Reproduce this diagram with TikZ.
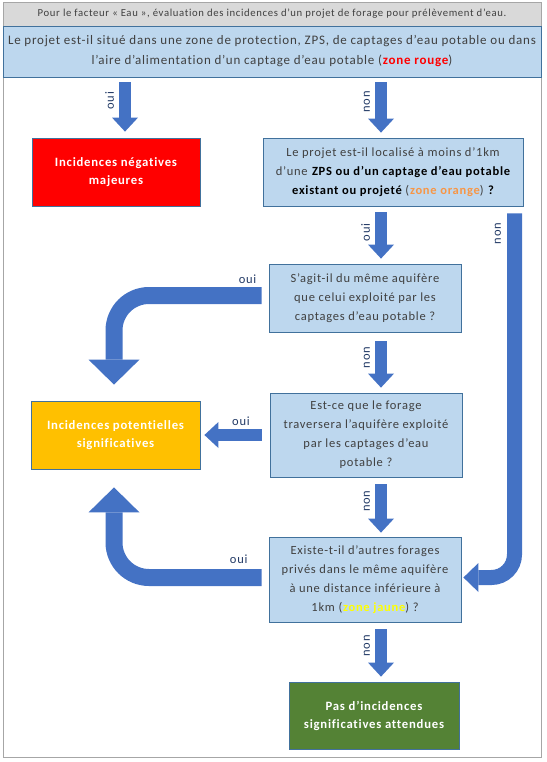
\documentclass[tikz,border=0pt]{standalone}
\usepackage{fontspec}
\setmainfont{Carlito}[LetterSpace=6, Ligatures=NoCommon]
\usetikzlibrary{arrows.meta,calc,positioning}

\definecolor{bleuboite}{HTML}{BDD7EE}
\definecolor{bordbleu}{HTML}{41719C}
\definecolor{bleufleche}{HTML}{4472C4}
\definecolor{bleuetiq}{HTML}{203864}
\definecolor{gristexte}{HTML}{404040}
\definecolor{grisfond}{HTML}{D9D9D9}
\definecolor{griscadre}{HTML}{A6A6A6}
\definecolor{rouge}{HTML}{FF0000}
\definecolor{orangeboite}{HTML}{FFC000}
\definecolor{orangetexte}{HTML}{F79646}
\definecolor{jaune}{HTML}{FFFF00}
\definecolor{vert}{HTML}{548235}

\newcommand{\fort}[1]{\textbf{\textcolor{black}{#1}}}

\tikzset{
  question/.style={draw=bordbleu, fill=bleuboite, text=gristexte, align=center,
    font=\fontsize{12.5}{19}\selectfont, line width=0.8pt},
  resultat/.style={draw=bordbleu, text=white, align=center,
    font=\fontsize{12.7}{18}\selectfont\bfseries, line width=0.8pt},
  fleche/.style={draw=bleufleche, line width=12pt,
    -{Triangle[width=26pt,length=14pt,line width=0pt]}},
  courbe/.style={draw=bleufleche, line width=17pt, rounded corners=35pt,
    -{Triangle[width=51pt,length=25pt,line width=0pt]}},
  coude/.style={draw=bleufleche, line width=15pt, rounded corners=23pt,
    -{Triangle[width=29pt,length=15pt,line width=0pt]}},
  etiq/.style={text=bleuetiq, font=\fontsize{12.5}{14}\selectfont, inner sep=1pt, outer sep=0pt},
  etiqv/.style={etiq, rotate=90, anchor=south, inner ysep=11pt},
}

\begin{document}
\begin{tikzpicture}[x=1pt, y=-1pt]
  \useasboundingbox (0,0) rectangle (546,762);
  % cadre general
  \draw[griscadre, line width=0.8pt] (3,2) rectangle (541,757);
  \node[draw=griscadre, fill=grisfond, text=gristexte, minimum width=538pt,
    minimum height=24pt, font=\fontsize{10.7}{12}\selectfont] (titre) at (272,14)
    {Pour le facteur « Eau », évaluation des incidences d’un projet de forage pour prélèvement d’eau.};
  \node[question, minimum width=538pt, minimum height=51pt,
    font=\fontsize{13}{20}\selectfont] (q1) at (272,51.5)
    {Le projet est-il situé dans une zone de protection, ZPS, de captages d’eau potable ou dans\\
     l’aire d’alimentation d’un captage d’eau potable (\textbf{\textcolor{rouge}{zone rouge}})};

  % premiere ligne
  \node[resultat, fill=rouge, minimum width=168pt, minimum height=68pt] (negatif) at (116,172)
    {Incidences négatives\\majeures};
  \node[question, minimum width=260pt, minimum height=68pt] (q2) at (393,172)
    {Le projet est-il localisé à moins d’1km\\
     d’une \fort{ZPS ou d’un captage d’eau potable}\\
     \fort{existant ou projeté} (\textbf{\textcolor{orangetexte}{zone orange}}) \fort{?}};

  % questions suivantes
  \node[question, minimum width=192pt, minimum height=68pt] (q3) at (365,298)
    {S’agit-il du même aquifère\\que celui exploité par les\\captages d’eau potable ?};
  \node[question, minimum width=192pt, minimum height=84pt] (q4) at (366,435)
    {Est-ce que le forage\\traversera l’aquifère exploité\\par les captages d’eau\\potable ?};
  \node[resultat, fill=orangeboite, minimum width=169pt, minimum height=68pt] (potentiel) at (115.5,435)
    {Incidences potentielles\\significatives};
  \node[question, minimum width=192pt, minimum height=85pt] (q5) at (365,579.5)
    {Existe-t-il d’autres forages\\privés dans le même aquifère\\à une distance inférieure à\\
     1km (\textbf{\textcolor{jaune}{zone jaune}}) ?};
  \node[resultat, fill=vert, minimum width=170pt, minimum height=67pt] (aucune) at (374,715.5)
    {Pas d’incidences\\significatives attendues};

  % axes des fleches
  \coordinate (axeA) at (125,0);
  \coordinate (axeB) at (381,0);
  \coordinate (axeC) at (114,0);
  \coordinate (axeD) at (514.5,0);

  \draw[fleche] ($(q1.south -| axeA)+(0,5)$) -- node[etiqv, pos=.37] {oui}
    ($(negatif.north -| axeA)+(0,-6)$);
  \draw[fleche] ($(q1.south -| axeB)+(0,5)$) -- node[etiqv, pos=.39] {non}
    ($(q2.north -| axeB)+(0,-5)$);
  \draw[fleche] ($(q2.south -| axeB)+(0,6)$) -- node[etiqv, pos=.43] {oui}
    ($(q3.north -| axeB)+(0,-5)$);
  \draw[fleche] ($(q3.south -| axeB)+(0,9)$) -- node[etiqv, pos=.35] {non}
    ($(q4.north -| axeB)+(0,-5)$);
  \draw[fleche] ($(q4.south -| axeB)+(0,7)$) -- node[etiqv, pos=.35] {non}
    ($(q5.north -| axeB)+(0,-4)$);
  \draw[fleche] ($(q5.south -| axeB)+(0,7)$) -- node[etiqv, pos=.35] {non}
    ($(aucune.north -| axeB)+(0,-5)$);
  \draw[fleche] ($(q4.west)+(-8,0)$) -- node[etiq, pos=.36, above=8pt] {oui}
    ($(potentiel.east)+(4,0)$);

  % fleches courbes
  \draw[courbe] ($(q3.west)+(-7,-2.5)$) -- node[etiq, pos=.095, above=11pt] {oui}
    ($(axeC |- q3.west)+(0,-2.5)$) -- ($(potentiel.north -| axeC)+(0,-16)$);
  \draw[courbe] ($(q5.west)+(-7,-2)$) -- node[etiq, pos=.155, above=13pt] {oui}
    ($(axeC |- q5.west)+(0,-2)$) -- ($(potentiel.south -| axeC)+(0,18)$);
  \draw[coude] ($(q2.south -| axeD)+(0,7)$) -- node[etiqv, pos=.055, inner ysep=13.5pt] {non}
    ($(axeD |- q5.east)+(0,-2)$) -- ($(q5.east)+(2,-2)$);
\end{tikzpicture}
\end{document}
